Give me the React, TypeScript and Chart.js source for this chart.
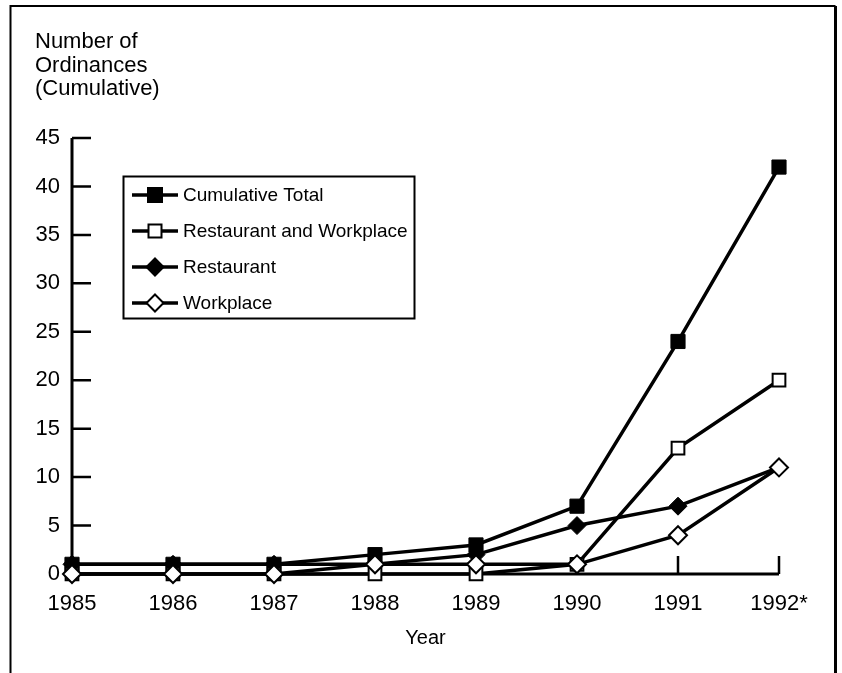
import React, { useEffect, useRef } from "react";
import { Chart, registerables } from "chart.js";

Chart.register(...registerables);

const years = ["1985", "1986", "1987", "1988", "1989", "1990", "1991", "1992*"];
const cumulativeTotal = [1, 1, 1, 2, 3, 7, 24, 42];
const restaurantAndWorkplace = [0, 0, 0, 0, 0, 1, 13, 20];
const restaurant = [1, 1, 1, 1, 2, 5, 7, 11];
const workplace = [0, 0, 0, 1, 1, 1, 4, 11];
const yTicks = [0, 5, 10, 15, 20, 25, 30, 35, 40, 45];
const titleLines = ["Number of", "Ordinances", "(Cumulative)"];
const xTitle = "Year";
const seriesNames = ["Cumulative Total", "Restaurant and Workplace", "Restaurant", "Workplace"];

const FONT = "'Liberation Sans', Arial, Helvetica, sans-serif";

type Mark = { style: "rect" | "rectRot"; fill: string };
const marks: Mark[] = [
  { style: "rect", fill: "#000" },
  { style: "rect", fill: "#fff" },
  { style: "rectRot", fill: "#000" },
  { style: "rectRot", fill: "#fff" },
];

function drawMarker(ctx: CanvasRenderingContext2D, m: Mark, x: number, y: number) {
  ctx.save();
  ctx.fillStyle = m.fill;
  ctx.strokeStyle = "#000";
  ctx.lineWidth = 2;
  ctx.beginPath();
  if (m.style === "rect") {
    const h = m.fill === "#000" ? 7 : 6.5;
    ctx.rect(x - h, y - h, 2 * h, 2 * h);
  } else {
    const r = 8.5;
    ctx.moveTo(x, y - r);
    ctx.lineTo(x + r, y);
    ctx.lineTo(x, y + r);
    ctx.lineTo(x - r, y);
    ctx.closePath();
  }
  ctx.fill();
  ctx.stroke();
  ctx.restore();
}

const decor = {
  id: "decor",
  beforeDatasetsDraw(chart: any) {
    const { ctx, scales } = chart;
    const x = scales.x;
    const y = scales.y;
    const x0 = x.getPixelForValue(0);
    const xEnd = x.getPixelForValue(years.length - 1);
    const y0 = y.getPixelForValue(0);
    const yTop = y.getPixelForValue(yTicks[yTicks.length - 1]);
    ctx.save();
    ctx.strokeStyle = "#000";
    ctx.lineWidth = 3;
    ctx.beginPath();
    ctx.moveTo(x0, yTop);
    ctx.lineTo(x0, y0);
    ctx.lineTo(xEnd, y0);
    ctx.stroke();
    ctx.lineWidth = 2.5;
    ctx.beginPath();
    yTicks.forEach((v) => {
      const py = y.getPixelForValue(v);
      ctx.moveTo(x0, py);
      ctx.lineTo(x0 + 19, py);
    });
    years.forEach((_, i) => {
      const px = x.getPixelForValue(i);
      ctx.moveTo(px, y0);
      ctx.lineTo(px, y0 - 18);
    });
    ctx.stroke();
    ctx.restore();
  },
  afterDraw(chart: any) {
    const { ctx } = chart;
    ctx.save();
    // frame
    ctx.strokeStyle = "#000";
    ctx.lineWidth = 2;
    ctx.beginPath();
    ctx.moveTo(10.5, 673);
    ctx.lineTo(10.5, 6);
    ctx.lineTo(835.5, 6);
    ctx.stroke();
    ctx.lineWidth = 3;
    ctx.beginPath();
    ctx.moveTo(835.5, 6);
    ctx.lineTo(835.5, 673);
    ctx.stroke();

    // y-axis title
    ctx.fillStyle = "#000";
    ctx.font = `22px ${FONT}`;
    ctx.textAlign = "left";
    ctx.textBaseline = "middle";
    titleLines.forEach((t, i) => ctx.fillText(t, 35, 42 + i * 23.5));

    // legend
    ctx.lineWidth = 2;
    ctx.strokeRect(123.5, 176.5, 291, 142);
    const rows = [195, 231, 267, 303];
    ctx.font = `19px ${FONT}`;
    seriesNames.forEach((name, i) => {
      const ry = rows[i];
      ctx.lineWidth = 3.5;
      ctx.beginPath();
      ctx.moveTo(132, ry);
      ctx.lineTo(178, ry);
      ctx.stroke();
      drawMarker(ctx, marks[i], 155, ry);
      ctx.fillStyle = "#000";
      ctx.fillText(name, 183, ry + 1);
    });
    ctx.restore();
  },
};

export default function App() {
  const ref = useRef<HTMLCanvasElement>(null);
  useEffect(() => {
    if (!ref.current) return;
    const common = {
      borderColor: "#000",
      borderWidth: 3.5,
      pointBorderColor: "#000",
      tension: 0,
      fill: false,
      clip: false as any,
    };
    const chart = new Chart(ref.current, {
      type: "line",
      data: {
        labels: years,
        datasets: [
          {
            ...common,
            label: seriesNames[0],
            data: cumulativeTotal,
            pointStyle: "rect",
            pointRadius: 10,
            pointBackgroundColor: "#000",
            pointBorderWidth: 1,
            order: 2,
          },
          {
            ...common,
            label: seriesNames[1],
            data: restaurantAndWorkplace,
            pointStyle: "rect",
            pointRadius: 9,
            pointBackgroundColor: "#fff",
            pointBorderWidth: 2,
            order: 1,
          },
          {
            ...common,
            label: seriesNames[2],
            data: restaurant,
            pointStyle: "rectRot",
            pointRadius: 9,
            pointBackgroundColor: "#000",
            pointBorderWidth: 1,
            order: 3,
          },
          {
            ...common,
            label: seriesNames[3],
            data: workplace,
            pointStyle: "rectRot",
            pointRadius: 9,
            pointBackgroundColor: "#fff",
            pointBorderWidth: 2,
            order: 0,
          },
        ],
      },
      options: {
        responsive: false,
        animation: false,
        devicePixelRatio: 1,
        layout: { padding: { top: 138, right: 63, bottom: 0, left: 0 } },
        plugins: {
          legend: { display: false },
          tooltip: { enabled: false },
        },
        scales: {
          x: {
            type: "category",
            offset: false,
            grid: { display: false, drawTicks: false },
            border: { display: false },
            ticks: {
              color: "#000",
              font: { family: FONT, size: 22 },
              padding: 17,
              maxRotation: 0,
              autoSkip: false,
            },
            title: {
              display: true,
              text: xTitle,
              color: "#000",
              font: { family: FONT, size: 20 },
              padding: { top: 0, bottom: 23 },
            },
            afterFit: (s: any) => {
              s.height = 99;
            },
          },
          y: {
            min: 0,
            max: 45,
            grid: { display: false, drawTicks: false },
            border: { display: false },
            ticks: {
              stepSize: 5,
              color: "#000",
              font: { family: FONT, size: 22 },
              padding: 12,
            },
            afterFit: (s: any) => {
              s.width = 72;
            },
          },
        },
      },
      plugins: [decor],
    });
    return () => chart.destroy();
  }, []);
  return (
    <div style={{ position: "fixed", left: 0, top: 0, width: 842, height: 673, background: "#fff" }}>
      <canvas ref={ref} width={842} height={673} />
    </div>
  );
}
